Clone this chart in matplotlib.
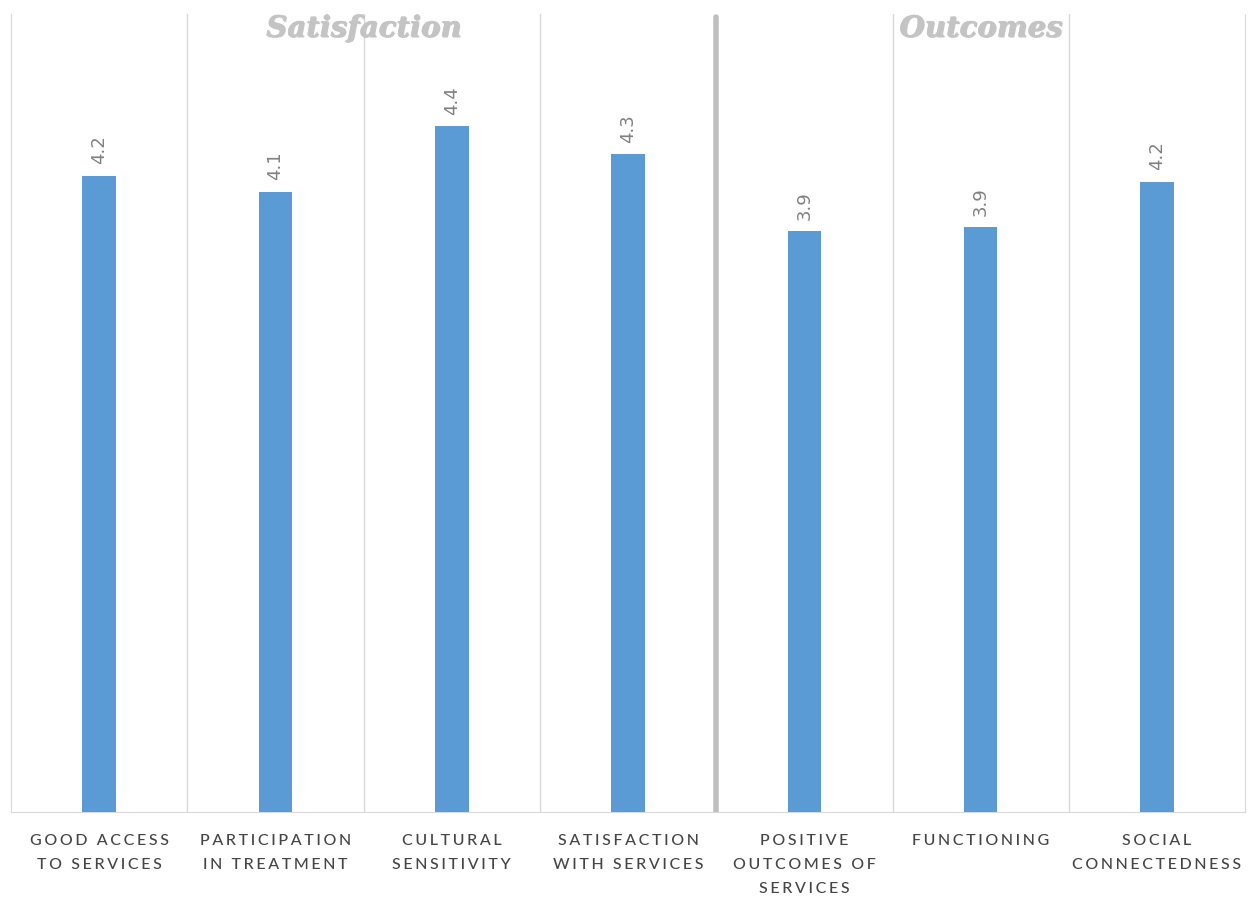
import matplotlib
matplotlib.use('Agg')
import matplotlib.pyplot as plt
import matplotlib.patheffects as pe

# category labels (two-line where the chart wraps them)
categories = ['GOOD ACCESS\nTO SERVICES', 'PARTICIPATION\nIN TREATMENT', 'CULTURAL\nSENSITIVITY',
              'SATISFACTION\nWITH SERVICES', 'POSITIVE\nOUTCOMES OF\nSERVICES', 'FUNCTIONING',
              'SOCIAL\nCONNECTEDNESS']
scores = [4.19, 4.11, 4.44, 4.30, 3.91, 3.93, 4.16]
groups = ['Satisfaction', 'Outcomes']
group_centers = [1.5, 5.0]


def spaced(s):
    # fake letter spacing with six-per-em spaces
    return '\n'.join('\u2006'.join(line) for line in s.split('\n'))


plt.rcParams['font.family'] = ['Lato', 'DejaVu Sans']

fig = plt.figure(figsize=(12.51, 9.01), dpi=100)
ax = fig.add_axes([0.0088, 0.0988, 0.9865, 0.8857])

x = list(range(len(categories)))
ax.bar(x, scores, width=0.19, color='#5b9bd5', zorder=3)
ax.set_xlim(-0.5, len(categories) - 0.5)
ax.set_ylim(1, 5)

for xi, v in zip(x, scores):
    ax.annotate('%.1f' % v, (xi, v), xytext=(0, 8), textcoords='offset points',
                rotation=90, ha='center', va='bottom', fontsize=13, color='#808080',
                family=['DejaVu Sans'])

# vertical separators between categories
for b in range(1, len(categories)):
    if b == 4:
        ax.plot([b - 0.5, b - 0.5], [1, 4.985], color='#bfbfbf', lw=4, zorder=2,
                solid_capstyle='round')
    else:
        ax.plot([b - 0.5, b - 0.5], [1, 5], color='#d9d9d9', lw=1, zorder=1)

for g, c in zip(groups, group_centers):
    ax.text(c, 4.93, g, ha='center', va='center', fontsize=21, color='#c4c4c4',
            style='italic', weight='bold', family=['DejaVu Serif'],
            path_effects=[pe.withSimplePatchShadow(offset=(0.8, -0.8), shadow_rgbFace='#8c8c8c', alpha=0.5),
                          pe.Normal()])

ax.set_yticks([])
ax.set_xticks(x)
ax.set_xticklabels([spaced(c) for c in categories], fontsize=11.5, color='#454545',
                   weight='medium', linespacing=1.92, va='top')
ax.tick_params(axis='x', length=0, pad=16)
for s in ['left', 'right', 'bottom']:
    ax.spines[s].set_color('#d9d9d9')
ax.spines['top'].set_visible(False)

plt.savefig('out.png', dpi=100)
plt.close()
